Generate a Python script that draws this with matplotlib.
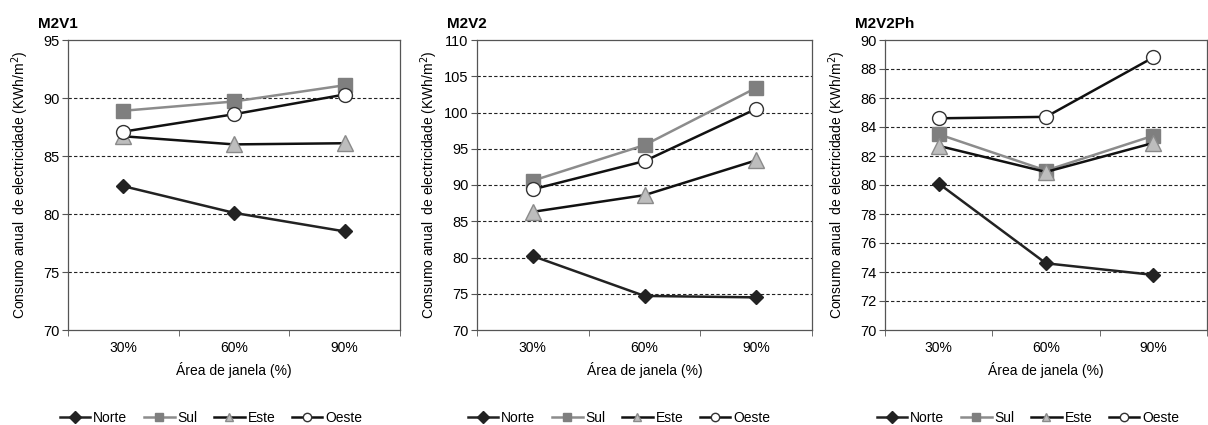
import numpy as np
import matplotlib
matplotlib.use("Agg")
import matplotlib.pyplot as plt
from matplotlib.lines import Line2D

plt.rcParams['font.family'] = ['Liberation Sans', 'DejaVu Sans']

categories = ['30%', '60%', '90%']
series_names = ['Norte', 'Sul', 'Este', 'Oeste']

titles = ['M2V1', 'M2V2', 'M2V2Ph']

m2v1 = {'Norte': [82.4, 80.1, 78.5],
        'Sul': [88.9, 89.7, 91.1],
        'Este': [86.7, 86.0, 86.1],
        'Oeste': [87.1, 88.6, 90.3]}
m2v2 = {'Norte': [80.2, 74.7, 74.5],
        'Sul': [90.6, 95.5, 103.4],
        'Este': [86.3, 88.6, 93.4],
        'Oeste': [89.4, 93.3, 100.5]}
m2v2ph = {'Norte': [80.1, 74.6, 73.8],
          'Sul': [83.5, 81.0, 83.4],
          'Este': [82.7, 80.9, 82.9],
          'Oeste': [84.6, 84.7, 88.8]}
panels = [m2v1, m2v2, m2v2ph]

y_ranges = [(70, 95, 5), (70, 110, 5), (70, 90, 2)]

styles = {
    'Norte': dict(color='#222222', marker='D', markersize=7.5, markerfacecolor='#222222', markeredgecolor='#222222'),
    'Sul': dict(color='#8c8c8c', marker='s', markersize=10, markerfacecolor='#7f7f7f', markeredgecolor='#7f7f7f'),
    'Este': dict(color='#111111', marker='^', markersize=11, markerfacecolor='#bdbdbd', markeredgecolor='#8a8a8a'),
    'Oeste': dict(color='#111111', marker='o', markersize=10, markerfacecolor='white', markeredgecolor='#333333'),
}

fig = plt.figure(figsize=(12.08, 4.25), dpi=100)
W, H = 1208, 425
axes_px = [(68, 400), (477, 812), (885, 1207)]
top_px, bottom_px = 40, 330
legend_cx = [211, 619, 1028]

x = np.arange(len(categories))
for i, data in enumerate(panels):
    l, r = axes_px[i]
    ax = fig.add_axes([l / W, 1 - bottom_px / H, (r - l) / W, (bottom_px - top_px) / H])
    for name in series_names:
        ax.plot(x, data[name], linewidth=1.8, label=name, **styles[name])
    lo, hi, step = y_ranges[i]
    ax.set_ylim(lo, hi)
    ticks = np.arange(lo, hi + 0.1, step)
    ax.set_yticks(ticks)
    ax.set_yticklabels([f'{t:g}' for t in ticks])
    for t in ticks[1:-1]:
        ax.axhline(t, color='#222222', linestyle=(0, (3, 2)), linewidth=0.8, zorder=0)
    ax.set_xlim(-0.5, 2.5)
    ax.set_xticks(x)
    ax.set_xticklabels(categories)
    ax.set_xticks([-0.5, 0.5, 1.5, 2.5], minor=True)
    ax.tick_params(axis='x', which='major', length=0, pad=8, labelsize=10)
    ax.tick_params(axis='x', which='minor', length=4, direction='out', color='#555555')
    ax.tick_params(axis='y', length=4, direction='out', labelsize=10.5, pad=2, color='#555555')
    for s in ax.spines.values():
        s.set_color('#555555')
        s.set_linewidth(0.9)
    ax.set_xlabel('Área de janela (%)', fontsize=10, labelpad=5)
    ax.set_ylabel('Consumo anual  de electricidade (KWh/m$^2$)', fontsize=10)
    # label sits a fixed distance left of the spine, like in the original
    ax.yaxis.set_label_coords(-37 / (r - l), 0.5)
    fig.text((l - 30) / W, 1 - 24 / H, titles[i], fontsize=11, fontweight='bold', va='center', ha='left')

    handles = [Line2D([], [], linewidth=1.8, **dict(styles[n], markersize=6)) for n in series_names]
    fig.legend(handles, series_names, loc='center', bbox_to_anchor=(legend_cx[i] / W, 1 - 418 / H),
               ncol=4, frameon=False, fontsize=10, handlelength=2.2, handletextpad=0.2, columnspacing=1.2)

fig.savefig('out.png', dpi=100)
